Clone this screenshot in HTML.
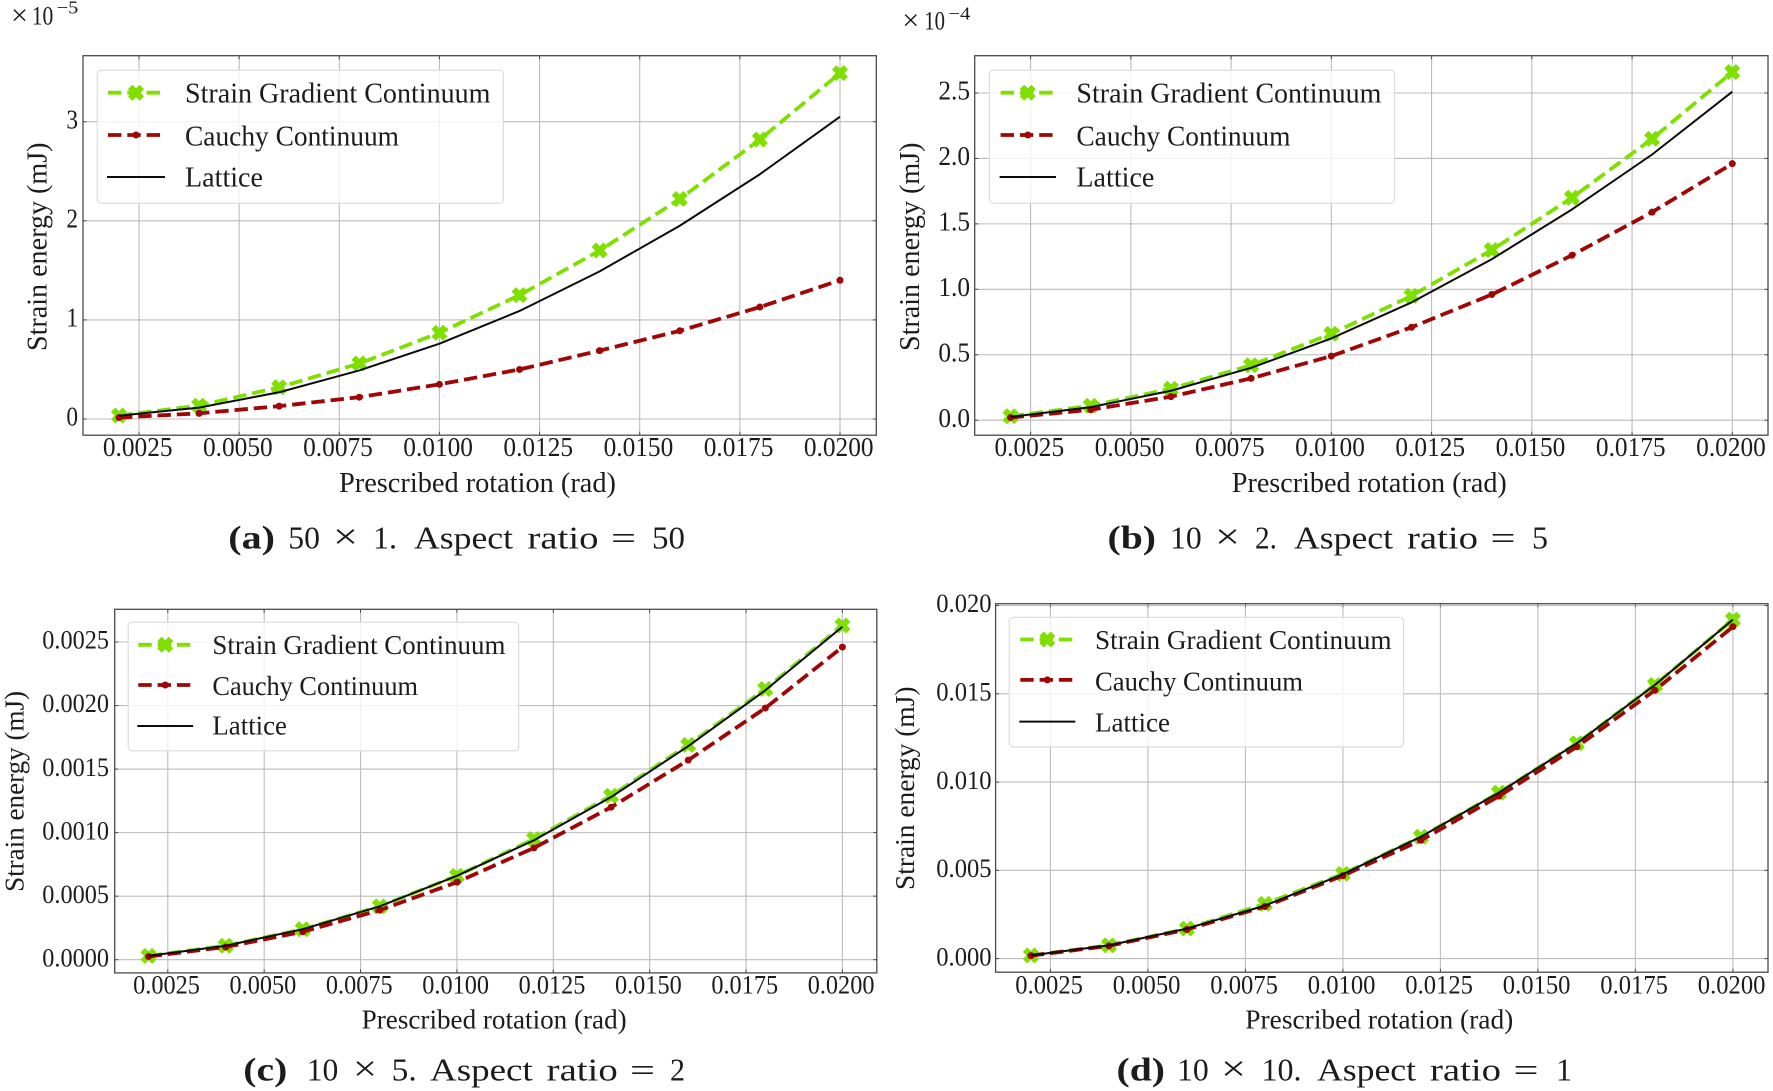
<!DOCTYPE html>
<html lang="en">
<head>
<meta charset="utf-8">
<title>Strain energy vs prescribed rotation</title>
<style>
html,body{margin:0;padding:0;background:#fff;}
svg{display:block;}
text{font-family:"Liberation Serif",serif;fill:#1c1c1c;}
</style>
</head>
<body>
<svg id="figure" width="1773" height="1091" viewBox="0 0 1773 1091" xmlns="http://www.w3.org/2000/svg"></svg>
<script>
// ---- shared data ----
const rotations = [0.002,0.004,0.006,0.008,0.010,0.012,0.014,0.016,0.018,0.020];
const xTickValues = [0.0025,0.0050,0.0075,0.0100,0.0125,0.0150,0.0175,0.0200];
const xTickLabels = ['0.0025','0.0050','0.0075','0.0100','0.0125','0.0150','0.0175','0.0200'];
const legendLabels = ['Strain Gradient Continuum','Cauchy Continuum','Lattice'];

// ---- panel (a) ----
const aGradient = [0.035,0.135,0.32,0.56,0.87,1.25,1.70,2.22,2.82,3.49];
const aCauchy   = [0.015,0.057,0.13,0.22,0.35,0.50,0.69,0.89,1.13,1.40];
const aLattice  = [0.033,0.115,0.27,0.49,0.76,1.09,1.49,1.95,2.47,3.05];
const aYTicks   = [0,1,2,3];
const aYLabels  = ['0','1','2','3'];

// ---- panel (b) ----
const bGradient = [0.03,0.11,0.24,0.42,0.66,0.95,1.30,1.70,2.15,2.66];
const bCauchy   = [0.02,0.08,0.18,0.32,0.49,0.71,0.96,1.26,1.59,1.96];
const bLattice  = [0.025,0.10,0.225,0.40,0.625,0.90,1.23,1.61,2.03,2.51];
const bYTicks   = [0,0.5,1,1.5,2,2.5];
const bYLabels  = ['0.0','0.5','1.0','1.5','2.0','2.5'];

// ---- panel (c) ----
const cGradient = [0.00003,0.00011,0.00024,0.00042,0.00066,0.00095,0.00129,0.00169,0.00213,0.00263];
const cCauchy   = [0.000025,0.00010,0.00022,0.00039,0.00061,0.00088,0.00120,0.00157,0.00198,0.00246];
const cLattice  = [0.00003,0.00011,0.00024,0.00042,0.00066,0.00094,0.00128,0.00168,0.00212,0.00262];
const cYTicks   = [0,0.0005,0.001,0.0015,0.002,0.0025];
const cYLabels  = ['0.0000','0.0005','0.0010','0.0015','0.0020','0.0025'];

// ---- panel (d) ----
const dGradient = [0.00018,0.00075,0.0017,0.0031,0.0048,0.0069,0.0094,0.0122,0.0155,0.0192];
const dCauchy   = [0.00017,0.00072,0.00165,0.00295,0.0047,0.0067,0.0092,0.0120,0.0152,0.0188];
const dLattice  = [0.00018,0.00075,0.0017,0.0030,0.00478,0.0069,0.0094,0.0122,0.0155,0.0192];
const dYTicks   = [0,0.005,0.01,0.015,0.02];
const dYLabels  = ['0.000','0.005','0.010','0.015','0.020'];

// ---- layout of each panel (separate from the data) ----
const panels = [
 {id:'a', g:aGradient, c:aCauchy, l:aLattice, yt:aYTicks, yl:aYLabels,
  box:[83,876.3,55.7,435.2], xa:[139,840], ya:[419,121.7,3],
  fs:27, digitW:12.67, tickBase:456, yRight:78,
  legend:{box:[97.2,503.4,70.2,203.3], hx:[107,165], hy:[92.7,135,177], tx:185, base:[102.7,145.4,186.7], w:[305.5,214,78], fs:28},
  xlabel:[339,277,491.8], ylabel:[46.3,351,208.5],
  cap:{tag:'(a)', tagX:[228.3,275], base:548.3, words:[['50',288.3,320],['×',335,356],['1.',373,397],['Aspect',414,513],['ratio',527.5,598.5],['=',611,636],['50',652,685]]},
  offset:{cross:11, ten:[31.7,53.3], exp:[56.7,78.3], base:24.3, sup:'−5', supBase:13.3}},
 {id:'b', g:bGradient, c:bCauchy, l:bLattice, yt:bYTicks, yl:bYLabels,
  box:[974.7,1768,55.7,435.2], xa:[1030.6,1732.3], ya:[420.2,93,2.5],
  fs:27, digitW:12.67, tickBase:456, yRight:970,
  legend:{box:[989.4,1394.5,70.2,203.3], hx:[999.6,1056], hy:[92.7,135,177], tx:1076.4, base:[102.7,145.4,186.7], w:[305,214,78], fs:28},
  xlabel:[1231.8,275,491.8], ylabel:[918.8,351,208.5],
  cap:{tag:'(b)', tagX:[1107.5,1156], base:548.3, words:[['10',1170,1201.7],['×',1217,1238],['2.',1255,1277],['Aspect',1294,1393],['ratio',1407,1478],['=',1490.5,1515.5],['5',1532,1548]]},
  offset:{cross:902.3, ten:[924.3,945], exp:[948.3,970.3], base:29.3, sup:'−4', supBase:19.3}},
 {id:'c', g:cGradient, c:cCauchy, l:cLattice, yt:cYTicks, yl:cYLabels,
  box:[114.7,876.8,609.3,972.9], xa:[167.8,842.4], ya:[959.7,642,0.0025],
  fs:26, digitW:12.13, tickBase:993.3, yRight:109,
  legend:{box:[128.2,518.6,622.2,750.8], hx:[137.3,193.2], hy:[644.8,685,726], tx:212.4, base:[654,695,734.6], w:[293,205.6,74.6], fs:27},
  xlabel:[361.7,265,1028.3], ylabel:[23.7,891.9,201],
  cap:{tag:'(c)', tagX:[243.3,287.3], base:1080.7, words:[['10',306.7,338.3],['×',355,375],['5.',391.7,416.7],['Aspect',430,532.7],['ratio',546.7,617.7],['=',630,655],['2',670,685]]}},
 {id:'d', g:dGradient, c:dCauchy, l:dLattice, yt:dYTicks, yl:dYLabels,
  box:[995.6,1768,603.7,972.2], xa:[1050.4,1732.9], ya:[958.6,605.5,0.02],
  fs:26, digitW:12.3, tickBase:993.3, yRight:991.6,
  legend:{box:[1009.2,1403.5,617.3,747], hx:[1019.3,1075.3], hy:[639.5,679.9,721.6], tx:1095, base:[649,690.4,731.4], w:[296.6,208,75], fs:27},
  xlabel:[1245.3,268,1028.3], ylabel:[914,890,203.5],
  cap:{tag:'(d)', tagX:[1116.5,1165], base:1080.7, words:[['10',1177,1208.7],['×',1223,1244],['10.',1261.5,1301.5],['Aspect',1317,1416],['ratio',1430,1501],['=',1513.5,1538.5],['1',1556,1572]]}}
];

const GREEN = '#7fe000', RED = '#a00606', BLACK = '#0c0c0c', GRID = '#bcbcbc', SPINE = '#4a4a4a';
const DASH = '13.4 5.9';
const NS = 'http://www.w3.org/2000/svg';
const root = document.getElementById('figure');

function make(tag, attrs, parent){
  const e = document.createElementNS(NS, tag);
  for (const k in attrs) e.setAttribute(k, attrs[k]);
  parent.appendChild(e);
  return e;
}
function makeText(str, x, y, width, size, parent, weight){
  const e = make('text', {x:x, y:y, 'font-size':size, textLength:width, lengthAdjust:'spacingAndGlyphs'}, parent);
  if (weight) e.setAttribute('font-weight', weight);
  e.textContent = str;
  return e;
}
function crossPoints(cx, cy, s){
  const b = s * 0.5;
  return [[-b,-s],[0,-b],[b,-s],[s,-b],[b,0],[s,b],[b,s],[0,b],[-b,s],[-s,b],[-b,0],[-s,-b]]
    .map(p => (cx + p[0]) + ',' + (cy + p[1])).join(' ');
}
function drawGreenMarker(cx, cy, parent){
  const m = make('polygon', {points:crossPoints(cx, cy, 7.2), fill:GREEN, stroke:GREEN, 'stroke-width':1.2, 'stroke-linejoin':'round'}, parent);
  
  
}
function drawRedMarker(cx, cy, parent){
  const m = make('circle', {cx:cx, cy:cy, r:3.5, fill:RED}, parent);
  
  
}
function drawLine(points, color, width, dash, parent, name){
  const attrs = {points:points.map(p => p[0] + ',' + p[1]).join(' '), fill:'none', stroke:color, 'stroke-width':width, 'stroke-linejoin':'round'};
  if (dash) attrs['stroke-dasharray'] = dash;
  const line = make('polyline', attrs, parent);
  
  
}

panels.forEach(function(p){
  const xScale = v => p.xa[0] + (v - xTickValues[0]) / (xTickValues[xTickValues.length-1] - xTickValues[0]) * (p.xa[1] - p.xa[0]);
  const yScale = v => p.ya[0] + (v / p.ya[2]) * (p.ya[1] - p.ya[0]);
  const [L,R,T,B] = p.box;

  const g = make('g', {}, root);
  
  

  // grid and inward ticks
  xTickValues.forEach(function(v){
    const x = xScale(v);
    const line = make('line', {x1:x, x2:x, y1:T, y2:B, stroke:GRID, 'stroke-width':1.1}, g);
    
    
    const tickB = make('line', {x1:x, x2:x, y1:B-3.5, y2:B, stroke:SPINE, 'stroke-width':1}, g);
    
    
    const tickT = make('line', {x1:x, x2:x, y1:T, y2:T+3.5, stroke:SPINE, 'stroke-width':1}, g);
    
    
  });
  p.yt.forEach(function(v){
    const y = yScale(v);
    const line = make('line', {x1:L, x2:R, y1:y, y2:y, stroke:GRID, 'stroke-width':1.1}, g);
    
    
    const tickL = make('line', {x1:L, x2:L+3.5, y1:y, y2:y, stroke:SPINE, 'stroke-width':1}, g);
    
    
    const tickR = make('line', {x1:R-3.5, x2:R, y1:y, y2:y, stroke:SPINE, 'stroke-width':1}, g);
    
    
  });

  // series
  const gradientPts = rotations.map((r,i) => [xScale(r), yScale(p.g[i])]);
  const cauchyPts = rotations.map((r,i) => [xScale(r), yScale(p.c[i])]);
  const latticePts = rotations.map((r,i) => [xScale(r), yScale(p.l[i])]);
  drawLine(gradientPts, GREEN, 3.8, DASH, g, 'gradient-series-line');
  gradientPts.forEach(pt => drawGreenMarker(pt[0], pt[1], g));
  drawLine(cauchyPts, RED, 3.8, DASH, g, 'cauchy-series-line');
  cauchyPts.forEach(pt => drawRedMarker(pt[0], pt[1], g));
  drawLine(latticePts, BLACK, 2, null, g, 'lattice-series-line');

  // spines
  const frame = make('rect', {x:L, y:T, width:R-L, height:B-T, fill:'none', stroke:SPINE, 'stroke-width':1.3}, g);
  
  

  // tick labels
  xTickLabels.forEach(function(s,i){
    const w = p.digitW * 5.5;
    const t = makeText(s, xScale(xTickValues[i]) - w/2 - 1.3, p.tickBase, w, p.fs, g);
    
    
  });
  p.yl.forEach(function(s,i){
    const w = s.length > 1 ? p.digitW * (s.length - 0.5) : p.digitW * 0.92;
    const t = makeText(s, p.yRight - w, yScale(p.yt[i]) + 6.7, w, p.fs, g);
    
    
  });

  // axis titles
  const xt = makeText('Prescribed rotation (rad)', p.xlabel[0], p.xlabel[2], p.xlabel[1], p.legend.fs, g);
  
  
  const yt = makeText('Strain energy (mJ)', p.ylabel[0], p.ylabel[1], p.ylabel[2], p.legend.fs, g);
  yt.setAttribute('transform', 'rotate(-90 ' + p.ylabel[0] + ' ' + p.ylabel[1] + ')');
  
  

  // scale offset
  if (p.offset){
    const o = p.offset;
    const cross = makeText('×', o.cross, o.base + 0.7, 17, 30, g);
    
    
    const off = makeText('10', o.ten[0], o.base, o.ten[1]-o.ten[0], 26, g);
    
    
    const sup = makeText(o.sup, o.exp[0], o.supBase, o.exp[1]-o.exp[0], 18, g);
    
    
  }

  // legend
  const lg = p.legend;
  const legend = make('g', {}, g);
  
  
  const bg = make('rect', {x:lg.box[0], y:lg.box[2], width:lg.box[1]-lg.box[0], height:lg.box[3]-lg.box[2], rx:4, ry:4, fill:'#fff', 'fill-opacity':0.8, stroke:'#dcdcdc', 'stroke-width':1.2}, legend);
  
  
  const mid = (lg.hx[0] + lg.hx[1]) / 2;
  drawLine([[lg.hx[0]+1, lg.hy[0]],[lg.hx[1], lg.hy[0]]], GREEN, 3.8, DASH, legend, 'legend-gradient-line');
  drawGreenMarker(mid, lg.hy[0], legend);
  drawLine([[lg.hx[0]+1, lg.hy[1]],[lg.hx[1], lg.hy[1]]], RED, 3.8, DASH, legend, 'legend-cauchy-line');
  drawRedMarker(mid, lg.hy[1], legend);
  drawLine([[lg.hx[0], lg.hy[2]],[lg.hx[1], lg.hy[2]]], BLACK, 2, null, legend, 'legend-lattice-line');
  legendLabels.forEach(function(s,i){
    const t = makeText(s, lg.tx, lg.base[i], lg.w[i], lg.fs, legend);
    
    
  });

  // caption
  const c = p.cap;
  const tag = makeText(c.tag, c.tagX[0], c.base, c.tagX[1]-c.tagX[0], 33, g, 'bold');
  
  
  c.words.forEach(function(w){
    const isSymbol = w[0] === '×';
    const word = makeText(w[0], w[1] - (isSymbol ? 2 : 0), c.base, w[2] - w[1] + (isSymbol ? 4 : 0), isSymbol ? 36 : 32, g);
    
    
  });
});
</script>
</body>
</html>
